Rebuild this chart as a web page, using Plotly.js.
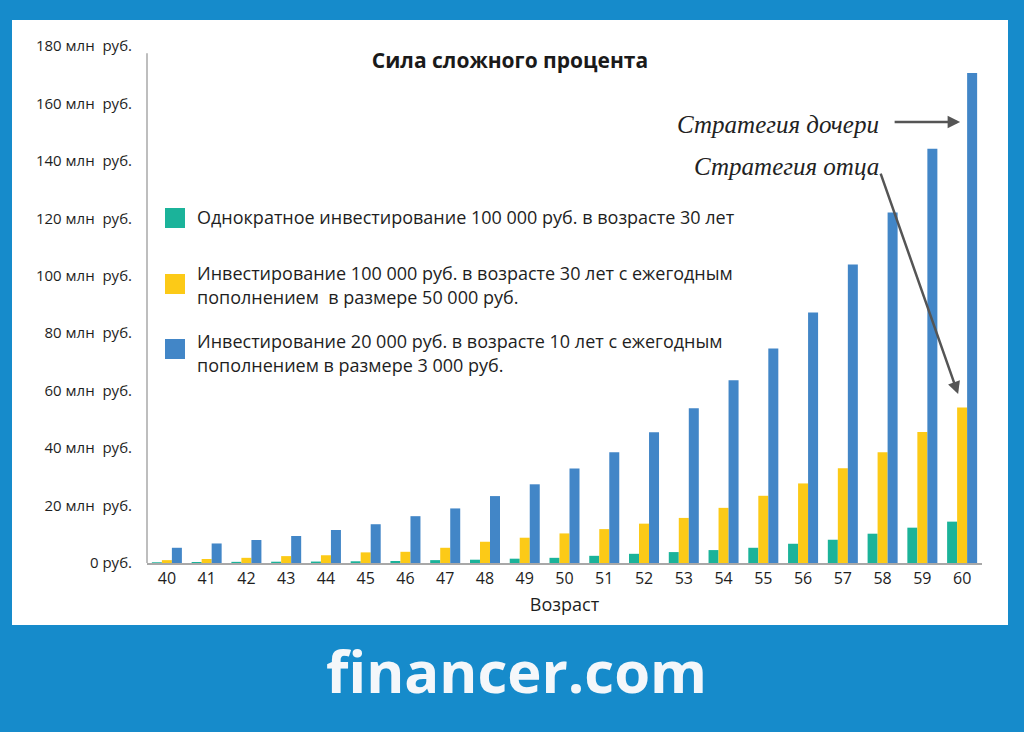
<!DOCTYPE html>
<html><head><meta charset="utf-8">
<script src="https://cdn.plot.ly/plotly-3.0.1.min.js"></script>
<style>html,body{margin:0;padding:0;background:#168bcb;}#chart{width:1024px;height:732px;}</style>
</head><body><div id="chart"></div>
<script>
const ages = [40,41,42,43,44,45,46,47,48,49,50,51,52,53,54,55,56,57,58,59,60];
const lumpSum = [0.25,0.35,0.4,0.45,0.5,0.6,0.7,1.0,1.15,1.5,1.8,2.5,3.2,3.8,4.5,5.3,6.7,8.1,10.2,12.3,14.4];
const fatherStrategy = [1.0,1.4,1.8,2.4,2.7,3.7,3.9,5.3,7.4,8.8,10.3,11.8,13.7,15.7,19.2,23.4,27.7,33.0,38.6,45.6,54.1];
const daughterStrategy = [5.3,6.8,8.0,9.4,11.5,13.5,16.3,19.0,23.3,27.4,32.9,38.6,45.5,53.9,63.6,74.7,87.2,103.9,122.0,144.2,170.6];
const seriesNames = [
  'Однократное инвестирование 100 000 руб. в возрасте 30 лет',
  'Инвестирование 100 000 руб. в возрасте 30 лет с ежегодным<br>пополнением  в размере 50 000 руб.',
  'Инвестирование 20 000 руб. в возрасте 10 лет с ежегодным<br>пополнением в размере 3 000 руб.'
];
const seriesColors = ['#1bb39a','#fcca17','#4286c7'];
const yTickVals = [0,20,40,60,80,100,120,140,160,180];
const yTickText = ['0 руб.','20 млн\u00a0 руб.','40 млн\u00a0 руб.','60 млн\u00a0 руб.','80 млн\u00a0 руб.','100 млн\u00a0 руб.','120 млн\u00a0 руб.','140 млн\u00a0 руб.','160 млн\u00a0 руб.','180 млн\u00a0 руб.'];
const chartTitle = 'Сила сложного процента';
const xTitle = 'Возраст';
const labelDaughter = 'Стратегия дочери';
const labelFather = 'Стратегия отца';
const brand = 'financer.com';

const L = 147, R = 982, T = 46, B = 563, W = 1024, H = 732;
const px = v => (v - L) / (R - L);
const py = v => (B - v) / (B - T);

const series = [lumpSum, fatherStrategy, daughterStrategy];
const traces = series.map((s, i) => ({
  type: 'bar', x: ages, y: s, name: seriesNames[i],
  marker: {color: seriesColors[i]}, showlegend: false, hoverinfo: 'x+y'
}));

const font = 'Open Sans, sans-serif';
const shapes = [
  {type:'rect', xref:'paper', yref:'paper', x0:px(12), x1:px(1008), y0:py(625), y1:py(20), fillcolor:'#ffffff', line:{width:0}, layer:'below'},
  {type:'line', xref:'paper', yref:'y', x0:0, x1:0, y0:0, y1:177.5, line:{color:'#a8a8a8', width:1.5}}
];
const annotations = [];
const legendY = [[217],[273,297],[341,365]];
const squareY = [218,284,349];
seriesNames.forEach((n, i) => {
  shapes.push({type:'rect', xref:'paper', yref:'paper', x0:px(165), x1:px(185), y0:py(squareY[i]+10), y1:py(squareY[i]-10), fillcolor:seriesColors[i], line:{width:0}});
  n.split('<br>').forEach((line, j) => {
    annotations.push({xref:'paper', yref:'paper', x:px(195), y:py(legendY[i][j]), xanchor:'left', yanchor:'middle', text:line, showarrow:false, font:{family:font, size:18, color:'#1e1e1e'}});
  });
});
annotations.push({xref:'paper', yref:'paper', x:px(881), y:py(125), xanchor:'right', yanchor:'middle', text:'<i>'+labelDaughter+'</i>', showarrow:false, font:{family:'Liberation Serif, serif', size:25, color:'#222'}});
annotations.push({xref:'paper', yref:'paper', x:px(881), y:py(166), xanchor:'right', yanchor:'middle', text:'<i>'+labelFather+'</i>', showarrow:false, font:{family:'Liberation Serif, serif', size:25, color:'#222'}});
annotations.push({x:59.95, y:153.5, xref:'x', yref:'y', text:'', showarrow:true, ax:-67, ay:0, arrowhead:2, arrowsize:1, arrowwidth:2.5, arrowcolor:'#555'});
annotations.push({x:59.9, y:58.8, xref:'x', yref:'y', text:'', showarrow:true, ax:-78, ay:-222, arrowhead:2, arrowsize:1, arrowwidth:2.5, arrowcolor:'#555'});
annotations.push({xref:'paper', yref:'paper', x:px(516), y:py(670), xanchor:'center', yanchor:'middle', text:'<b>'+brand+'</b>', showarrow:false, font:{family:'Open Sans, sans-serif', size:58, color:'#f4f7fa'}});

const layout = {
  width: W, height: H,
  margin: {l:L, r:W-R, t:T, b:H-B, pad:0},
  paper_bgcolor: '#168bcb', plot_bgcolor: 'rgba(0,0,0,0)',
  barmode: 'group', bargap: 0.245, bargroupgap: 0,
  title: {text: '<b>'+chartTitle+'</b>', x: 510/W, xref:'container', xanchor:'center', y: 1-61/H, yanchor:'middle', font:{family:font, size:21, color:'#1a1a1a'}},
  xaxis: {range:[39.5,60.5], tickvals: ages, ticktext: ages.map(String), showgrid:false, zeroline:false,
    showline:true, linecolor:'#a8a8a8', linewidth:1.5, ticks:'', tickfont:{family:font, size:16, color:'#1e1e1e'},
    title:{text:xTitle, font:{family:font, size:18, color:'#1e1e1e'}, standoff:10}},
  yaxis: {range:[0,180], tickvals:yTickVals, ticktext:yTickText, showgrid:false, zeroline:false, showline:false,
    ticks:'', ticklabelstandoff:14, tickfont:{family:font, size:15, color:'#1e1e1e'}},
  shapes: shapes, annotations: annotations
};
Plotly.newPlot('chart', traces, layout, {displayModeBar:false, staticPlot:true});
</script></body></html>
